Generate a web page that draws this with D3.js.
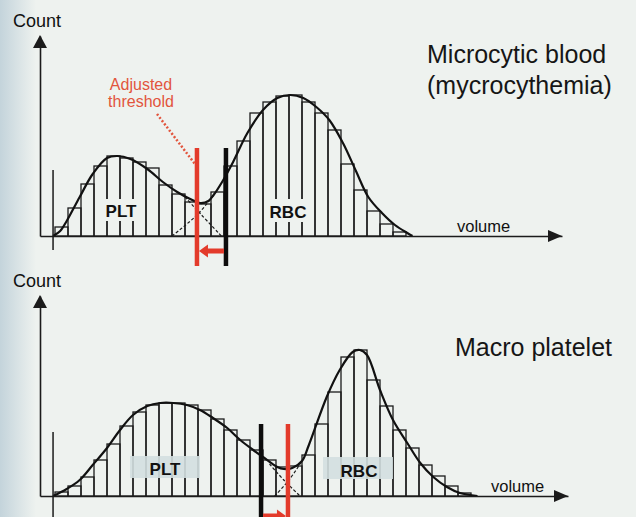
<!DOCTYPE html>
<html>
<head>
<meta charset="utf-8">
<script src="https://cdn.jsdelivr.net/npm/d3@7"></script>
<style>
  body { margin: 0; background: #eef2ef; }
  svg { display: block; font-family: "Liberation Sans", Arial, sans-serif; }
</style>
</head>
<body>
<div id="graph"></div>
<script>
// histogram bins, one value per channel (count, 0-100)
var binsTop = [4.5, 14, 26, 35, 40, 39, 37, 34, 25.5, 21, 17, 16, 22, 35, 47.5, 61.5,
               67, 70, 70.5, 67, 61.5, 53, 36, 23, 12.5, 6, 2];
var binsBottom = [2, 5, 9.5, 18, 26, 35, 42, 45.5, 46.5, 46.5, 45.5, 43, 38.5, 33, 28, 23,
                  18, 14.5, 15, 20.5, 36, 52, 69.5, 73, 58, 45, 33, 24, 15.5, 10, 5, 1.5];

// smooth envelope [channel, count]
var curveTop = [[-0.15,0],[0.4,2.5],[0.9,7.5],[1.9,19.5],[2.9,31],[4,39],[4.8,40],[5.8,38.5],
  [7.1,33.5],[8.3,27],[9.4,22],[10.4,18.5],[11.15,16.5],[11.8,17.5],[12.2,20.5],[12.9,27.5],
  [13.7,37],[14.8,51.5],[16,63],[17.1,69],[18.1,70.5],[19.1,69],[20.1,64.5],[21.1,58],
  [22.15,46.5],[23.15,32.5],[24.1,19.5],[25.15,11.5],[26.15,5.5],[27.1,1.5],[27.5,0]];
var curveBottom = [[-0.15,0],[0.9,3.5],[1.9,8],[2.9,15.5],[4,24],[5,33],[6,40.5],[7.1,45],
  [8.1,46.5],[9.1,46.5],[10.15,45.5],[11.15,43],[12.15,39],[13.25,34],[14.25,28],[15.25,23],
  [16,19.5],[17.1,14.5],[17.6,13.5],[18.25,14],[19,17.5],[19.5,25],[20.9,49.5],[21.9,63],
  [22.9,72],[23.45,73],[24,70.5],[25,53],[26,38],[27.1,26.5],[28.1,16.5],[29.1,9.5],
  [30.15,4.5],[31.15,1.5],[32.5,0]];

// dashed tails of the two populations in the overlap
var pltTailTop = [[10.0,19.5],[11.2,11],[12.8,0]];
var rbcTailTop = [[9.0,0],[11.0,11],[12.2,20.5]];
var pltTailBottom = [[16.5,16],[17.6,8],[18.85,0]];
var rbcTailBottom = [[16.9,0],[18.0,8],[19.0,17.5]];

// discriminator positions (channel)
var thresholdsTop = {old: 13.15, adjusted: 10.92};
var thresholdsBottom = {old: 15.85, adjusted: 17.92};
var lowLimit = -0.15;

var w = 636, h = 517;
var red = "#e33b2b", ink = "#1b1b1b";

var x = d3.scaleLinear().domain([-1.154, 39]).range([40, 562]);
var xb = d3.scaleLinear().domain([-1.154, 39.46]).range([40, 568]);
var yTop = d3.scaleLinear().domain([0, 100]).range([236, 36]);
var yBot = d3.scaleLinear().domain([0, 100]).range([496, 296]);

var svg = d3.select("#graph").append("svg")
  .attr("width", w)
  .attr("height", h);

// scanned-paper tint on the left edge
var grad = svg.append("defs").append("linearGradient")
  .attr("id", "edge").attr("x1", 0).attr("x2", 1);
grad.append("stop").attr("offset", 0).attr("stop-color", "#b9ccd6").attr("stop-opacity", 0.8);
grad.append("stop").attr("offset", 1).attr("stop-color", "#b9ccd6").attr("stop-opacity", 0);
svg.append("rect").attr("width", 36).attr("height", h).attr("fill", "url(#edge)");

function panel(o) {
  var g = svg.append("g");
  var y = o.y;

  var line = d3.line()
    .x(function(d) { return x(d[0]); })
    .y(function(d) { return y(d[1]); })
    .curve(d3.curveCatmullRom.alpha(0.5));

  // histogram
  g.selectAll(".bin")
    .data(o.bins)
    .enter().append("rect")
    .attr("class", "bin")
    .attr("x", function(d, i) { return x(i); })
    .attr("y", function(d) { return y(d); })
    .attr("width", x(1) - x(0))
    .attr("height", function(d) { return y(0) - y(d); })
    .attr("fill", "none")
    .attr("stroke", ink)
    .attr("stroke-width", 1.3);

  // label boxes
  o.labels.forEach(function(l) {
    g.append("rect")
      .attr("x", l.box[0]).attr("y", l.box[1])
      .attr("width", l.box[2]).attr("height", l.box[3])
      .attr("fill", l.fill).attr("opacity", l.op);
    g.append("text")
      .attr("x", l.tx).attr("y", l.ty)
      .attr("text-anchor", "middle")
      .style("font-weight", "bold")
      .style("font-size", "17px")
      .attr("fill", "#111")
      .text(l.text);
  });

  // tails
  [o.pltTail, o.rbcTail].forEach(function(t) {
    g.append("path")
      .attr("d", line(t))
      .attr("fill", "none")
      .attr("stroke", ink)
      .attr("stroke-width", 1.2)
      .attr("stroke-dasharray", "3,2");
  });

  // envelope
  g.append("path")
    .attr("d", line(o.curve))
    .attr("fill", "none")
    .attr("stroke", "#111")
    .attr("stroke-width", 2.2);

  // axes
  g.append("g")
    .attr("transform", "translate(0," + y(0) + ")")
    .call(d3.axisBottom(o.xs).tickValues([]).tickSizeOuter(0))
    .select(".domain").attr("stroke", ink).attr("stroke-width", 1.6);
  g.append("g")
    .attr("transform", "translate(" + x.range()[0] + ",0)")
    .call(d3.axisLeft(y).tickValues([]).tickSizeOuter(0))
    .select(".domain").attr("stroke", ink).attr("stroke-width", 1.6);

  var xe = o.xs.range()[1], ye = y(0), xa = x.range()[0], ya = y.range()[1];
  g.append("path")
    .attr("d", "M" + xe + "," + ye + "L" + (xe - 14) + "," + (ye - 6) + "L" + (xe - 14) + "," + (ye + 6) + "Z")
    .attr("fill", ink);
  g.append("path")
    .attr("d", "M" + xa + "," + (ya - 1) + "L" + (xa - 7) + "," + (ya + 12) + "L" + (xa + 7) + "," + (ya + 12) + "Z")
    .attr("fill", ink);

  // low limit marker
  g.append("line")
    .attr("x1", x(lowLimit)).attr("x2", x(lowLimit))
    .attr("y1", y(o.lowTop)).attr("y2", y(o.lowBottom))
    .attr("stroke", ink).attr("stroke-width", 1.5);

  // thresholds
  g.append("line")
    .attr("x1", x(o.th.old)).attr("x2", x(o.th.old))
    .attr("y1", y(o.thTop)).attr("y2", y(o.thBottom))
    .attr("stroke", "#0d0d0d").attr("stroke-width", 4.5);
  g.append("line")
    .attr("x1", x(o.th.adjusted)).attr("x2", x(o.th.adjusted))
    .attr("y1", y(o.thTop)).attr("y2", y(o.thBottom))
    .attr("stroke", red).attr("stroke-width", 4.5);

  // shift arrow
  var ay = y(o.arrowAt);
  var from = x(o.th.old) + (o.th.adjusted < o.th.old ? -2 : 2);
  var tip = x(o.th.adjusted) + (o.th.adjusted < o.th.old ? 2 : -2);
  var dir = tip < from ? 1 : -1;
  g.append("path")
    .attr("d", "M" + from + "," + (ay - 2.5) + "L" + (tip + dir * 9) + "," + (ay - 2.5) +
               "L" + (tip + dir * 9) + "," + (ay - 6.5) + "L" + tip + "," + ay +
               "L" + (tip + dir * 9) + "," + (ay + 6.5) + "L" + (tip + dir * 9) + "," + (ay + 2.5) +
               "L" + from + "," + (ay + 2.5) + "Z")
    .attr("fill", red);

  // axis titles
  g.append("text")
    .attr("x", 13).attr("y", o.countY)
    .style("font-size", "18px").attr("fill", "#111")
    .text("Count");
  g.append("text")
    .attr("x", o.volX).attr("y", o.volY)
    .style("font-size", "16.5px").attr("fill", "#111")
    .text("volume");

  o.title.forEach(function(t, i) {
    g.append("text")
      .attr("x", o.titleX).attr("y", o.titleY + i * 31)
      .style("font-size", "25px").attr("fill", "#161616")
      .text(t);
  });
}

panel({
  y: yTop, xs: x, bins: binsTop, curve: curveTop,
  pltTail: pltTailTop, rbcTail: rbcTailTop,
  th: thresholdsTop, thTop: 44, thBottom: -15, arrowAt: -7.5,
  lowTop: 33, lowBottom: -7,
  labels: [
    {text: "PLT", tx: 121, ty: 217, box: [101, 199, 40, 22], fill: "#eef2ef", op: 1},
    {text: "RBC", tx: 288, ty: 218, box: [265, 199, 46, 23], fill: "#eef2ef", op: 1}
  ],
  countY: 27, volX: 457, volY: 232,
  title: ["Microcytic blood", "(mycrocythemia)"], titleX: 427, titleY: 63
});

panel({
  y: yBot, xs: xb, bins: binsBottom, curve: curveBottom,
  pltTail: pltTailBottom, rbcTail: rbcTailBottom,
  th: thresholdsBottom, thTop: 36, thBottom: -12, arrowAt: -10,
  lowTop: 32, lowBottom: -12,
  labels: [
    {text: "PLT", tx: 165, ty: 475, box: [130, 456, 70, 22], fill: "#d3dfe0", op: 0.9},
    {text: "RBC", tx: 359, ty: 477, box: [323, 457, 70, 22], fill: "#d3dfe0", op: 0.9}
  ],
  countY: 287, volX: 491, volY: 492,
  title: ["Macro platelet"], titleX: 455, titleY: 356
});

// adjusted threshold callout
svg.append("text")
  .attr("x", 141).attr("y", 90)
  .attr("text-anchor", "middle")
  .style("font-size", "16px").attr("fill", "#e2553d")
  .text("Adjusted");
svg.append("text")
  .attr("x", 141).attr("y", 107)
  .attr("text-anchor", "middle")
  .style("font-size", "16px").attr("fill", "#e2553d")
  .text("threshold");
svg.append("line")
  .attr("x1", 157).attr("y1", 114)
  .attr("x2", x(thresholdsTop.adjusted) - 2).attr("y2", 164)
  .attr("stroke", "#e2553d").attr("stroke-width", 2.5)
  .attr("stroke-dasharray", "2,2");
</script>
</body>
</html>
